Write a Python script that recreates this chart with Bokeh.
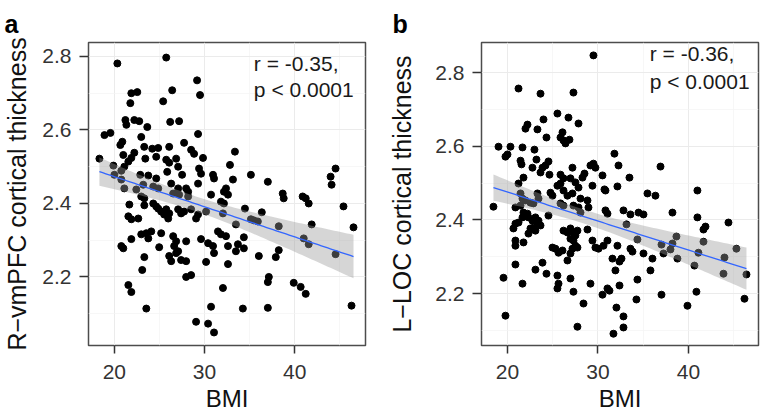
import numpy as np
from bokeh.plotting import figure
from bokeh.layouts import row
from bokeh.models import FixedTicker, Label, Range1d
from bokeh.embed import file_html
from bokeh.resources import INLINE

# ---------------- data ----------------
bmi_a = [20.33, 25.75, 29.17, 21.88, 22.54, 26.41, 29.50, 21.77, 25.41, 21.22,
         22.21, 22.76, 21.33, 23.65, 26.19, 27.18, 18.90, 19.56, 29.28, 22.98,
         20.88, 20.66, 27.73, 23.31, 24.20, 24.86, 26.08, 28.51, 28.84, 20.99,
         22.21, 21.88, 23.43, 24.64, 18.34, 19.89, 25.75, 26.08, 26.85, 29.83,
         21.55, 21.10, 20.77, 27.07, 25.86, 27.51, 29.39, 29.61, 30.94, 31.05,
         32.82, 22.87, 23.76, 24.64, 20.00, 20.77, 23.20, 24.31, 24.86, 29.28,
         26.30, 27.07, 27.96, 21.10, 22.43, 32.38, 32.15, 22.98, 23.32, 26.52,
         27.18, 28.18, 28.18, 30.72, 31.82, 32.15, 21.66, 23.32, 24.31, 24.64,
         24.86, 25.19, 25.75, 26.08, 25.52, 25.97, 27.07, 27.40, 27.73, 28.51,
         29.28, 29.06, 30.17, 32.04, 21.55, 21.88, 22.65, 22.98, 23.54, 24.09,
         23.76, 25.19, 21.88, 20.77, 20.99, 24.97, 26.52, 26.85, 26.63, 27.07,
         26.85, 27.96, 29.61, 30.39, 30.94, 31.05, 31.49, 31.82, 32.38, 32.60,
         23.32, 26.08, 26.30, 27.40, 27.96, 30.17, 23.09, 32.60, 27.96, 28.51,
         21.55, 21.88, 32.04, 23.54, 30.72, 29.06, 30.39, 31.05, 33.15, 35.14,
         37.02, 32.60, 38.67, 38.78, 40.88, 41.22, 41.55, 44.53, 43.98, 44.09,
         45.41, 34.48, 36.35, 35.14, 35.47, 35.91, 33.48, 38.23, 41.88, 46.52,
         34.36, 33.70, 34.36, 33.48, 41.00, 41.55, 38.23, 37.90, 36.02, 44.53,
         37.13, 37.02, 39.89, 40.66, 41.22, 34.25, 37.02, 46.30, 33.37]
thick_a = [2.781, 2.797, 2.735, 2.700, 2.703, 2.708, 2.695, 2.673, 2.678, 2.627,
           2.627, 2.624, 2.614, 2.608, 2.622, 2.624, 2.586, 2.592, 2.589, 2.581,
           2.568, 2.559, 2.565, 2.554, 2.549, 2.551, 2.554, 2.546, 2.535, 2.532,
           2.538, 2.524, 2.522, 2.527, 2.522, 2.503, 2.519, 2.511, 2.522, 2.524,
           2.514, 2.500, 2.489, 2.500, 2.486, 2.478, 2.495, 2.481, 2.478, 2.468,
           2.505, 2.478, 2.476, 2.468, 2.478, 2.465, 2.451, 2.446, 2.441, 2.454,
           2.454, 2.441, 2.441, 2.441, 2.438, 2.441, 2.432, 2.419, 2.414, 2.427,
           2.424, 2.419, 2.432, 2.424, 2.405, 2.400, 2.397, 2.395, 2.400, 2.392,
           2.386, 2.378, 2.384, 2.373, 2.370, 2.359, 2.384, 2.373, 2.378, 2.384,
           2.370, 2.359, 2.378, 2.373, 2.365, 2.357, 2.359, 2.316, 2.319, 2.324,
           2.305, 2.319, 2.303, 2.284, 2.278, 2.281, 2.311, 2.297, 2.284, 2.270,
           2.265, 2.297, 2.303, 2.292, 2.284, 2.265, 2.324, 2.316, 2.311, 2.284,
           2.254, 2.257, 2.243, 2.246, 2.243, 2.241, 2.219, 2.235, 2.200, 2.205,
           2.178, 2.159, 2.170, 2.114, 2.119, 2.078, 2.073, 2.049, 2.465, 2.478,
           2.459, 2.424, 2.427, 2.414, 2.419, 2.414, 2.400, 2.495, 2.473, 2.451,
           2.392, 2.386, 2.376, 2.357, 2.354, 2.351, 2.343, 2.338, 2.343, 2.335,
           2.308, 2.289, 2.278, 2.270, 2.305, 2.289, 2.273, 2.254, 2.257, 2.262,
           2.200, 2.186, 2.184, 2.173, 2.154, 2.114, 2.116, 2.122, 2.541]

bmi_b = [29.50, 21.22, 23.65, 27.29, 25.52, 26.74, 23.98, 27.85, 22.21, 21.99,
         23.31, 24.31, 26.08, 25.86, 26.19, 26.41, 26.85, 19.01, 20.33, 20.00,
         19.78, 21.66, 22.98, 23.20, 21.44, 21.55, 24.53, 24.20, 23.87, 22.76,
         29.50, 29.72, 29.17, 27.18, 30.50, 28.51, 28.29, 25.86, 26.19, 23.65,
         24.64, 21.77, 31.82, 32.27, 36.91, 33.48, 21.22, 26.96, 27.51, 29.39,
         30.83, 25.52, 25.86, 26.19, 26.63, 27.18, 24.75, 24.97, 23.31, 23.43,
         27.85, 28.07, 28.84, 28.95, 21.44, 21.66, 21.99, 22.54, 22.87, 20.88,
         21.44, 18.45, 27.29, 27.85, 28.07, 25.86, 26.19, 24.53, 21.77, 22.21,
         22.32, 22.76, 23.09, 23.43, 23.31, 22.87, 23.09, 23.65, 21.66, 21.22,
         20.88, 20.66, 22.32, 22.54, 26.19, 26.63, 26.96, 27.29, 27.51, 27.73,
         28.84, 20.88, 21.77, 20.88, 26.96, 27.29, 27.51, 27.73, 27.18, 26.96,
         29.39, 29.72, 30.06, 30.61, 31.05, 24.97, 25.30, 25.64, 26.08, 26.63,
         20.88, 23.87, 23.09, 24.31, 19.56, 25.52, 25.64, 25.52, 26.96, 21.66,
         27.29, 29.17, 31.05, 30.50, 28.40, 19.78, 27.73, 32.15, 30.72, 35.47,
         36.35, 40.99, 30.83, 31.05, 32.82, 33.59, 34.48, 35.03, 38.23, 33.15,
         40.99, 41.88, 41.66, 44.42, 32.15, 34.36, 33.59, 33.81, 35.03, 37.02,
         38.23, 38.67, 38.01, 37.24, 41.66, 41.10, 45.30, 31.60, 32.60, 32.38,
         36.02, 38.78, 43.98, 31.93, 35.80, 40.66, 43.87, 46.41, 34.36, 32.38,
         31.27, 34.25, 37.02, 40.88, 46.19, 32.04, 39.89, 32.82, 32.82, 31.71]
thick_b = [2.847, 2.757, 2.743, 2.746, 2.689, 2.678, 2.673, 2.662, 2.659, 2.648,
           2.646, 2.624, 2.638, 2.624, 2.616, 2.608, 2.618, 2.599, 2.599, 2.578,
           2.572, 2.597, 2.591, 2.564, 2.561, 2.551, 2.559, 2.548, 2.542, 2.542,
           2.553, 2.542, 2.548, 2.542, 2.521, 2.526, 2.515, 2.523, 2.513, 2.529,
           2.523, 2.515, 2.580, 2.548, 2.545, 2.515, 2.499, 2.513, 2.502, 2.493,
           2.480, 2.493, 2.499, 2.480, 2.466, 2.472, 2.474, 2.466, 2.472, 2.458,
           2.488, 2.458, 2.453, 2.434, 2.472, 2.458, 2.453, 2.447, 2.445, 2.434,
           2.439, 2.436, 2.439, 2.434, 2.420, 2.445, 2.439, 2.412, 2.420, 2.417,
           2.407, 2.398, 2.407, 2.398, 2.390, 2.379, 2.371, 2.385, 2.407, 2.393,
           2.390, 2.377, 2.363, 2.377, 2.371, 2.366, 2.377, 2.366, 2.358, 2.371,
           2.374, 2.344, 2.339, 2.330, 2.349, 2.344, 2.330, 2.325, 2.322, 2.309,
           2.344, 2.325, 2.322, 2.330, 2.344, 2.325, 2.322, 2.311, 2.317, 2.290,
           2.279, 2.284, 2.265, 2.254, 2.243, 2.249, 2.227, 2.214, 2.241, 2.227,
           2.205, 2.227, 2.214, 2.197, 2.173, 2.140, 2.110, 2.491, 2.483, 2.472,
           2.466, 2.480, 2.426, 2.417, 2.426, 2.415, 2.420, 2.415, 2.420, 2.388,
           2.407, 2.382, 2.374, 2.393, 2.330, 2.347, 2.322, 2.314, 2.309, 2.333,
           2.336, 2.355, 2.320, 2.309, 2.341, 2.311, 2.322, 2.295, 2.295, 2.287,
           2.295, 2.295, 2.298, 2.263, 2.263, 2.276, 2.254, 2.252, 2.238, 2.222,
           2.208, 2.184, 2.197, 2.205, 2.186, 2.162, 2.167, 2.138, 2.108, 2.091]

x_ticks = [20, 30, 40]
x_minor = [25, 35, 45]
y_ticks = [2.2, 2.4, 2.6, 2.8]
y_minor = [2.1, 2.3, 2.5, 2.7]
y_tick_labels = {2.2: "2.2", 2.4: "2.4", 2.6: "2.6", 2.8: "2.8"}
x_label = "BMI"
ylabel_a = "R\u2212vmPFC cortical thickness"
ylabel_b = "L\u2212LOC cortical thickness"
stat_a = ["r = -0.35,", "p < 0.0001"]
stat_b = ["r = -0.36,", "p < 0.0001"]

FONT = "Liberation Sans"


def fit_band(xs, ys, npts=80, tcrit=1.973):
    x = np.asarray(xs, float)
    y = np.asarray(ys, float)
    n = len(x)
    b, a = np.polyfit(x, y, 1)
    grid = np.linspace(x.min(), x.max(), npts)
    yhat = a + b * grid
    resid = y - (a + b * x)
    s = np.sqrt(np.sum(resid ** 2) / (n - 2))
    xm = x.mean()
    sxx = np.sum((x - xm) ** 2)
    se = s * np.sqrt(1.0 / n + (grid - xm) ** 2 / sxx)
    return grid, yhat, yhat - tcrit * se, yhat + tcrit * se


def panel(xs, ys, ylabel, letter, stat, width, height, bl, br, bt, bb,
          xr, yr, ylab_standoff, letter_offset, stat_pos):
    p = figure(width=width, height=height,
               x_range=Range1d(*xr), y_range=Range1d(*yr),
               output_backend="svg", toolbar_location=None,
               min_border_left=bl, min_border_top=bt, min_border_right=br,
               min_border_bottom=bb)
    p.background_fill_color = "white"
    p.border_fill_color = "white"
    p.outline_line_color = "#4d4d4d"
    p.outline_line_width = 1.5

    # panel letter as the figure title, pushed left of the frame
    p.title.text = letter
    p.title.align = "left"
    p.title.offset = letter_offset
    p.title.standoff = 10
    p.title.text_font = FONT
    p.title.text_font_size = "25px"
    p.title.text_font_style = "bold"
    p.title.text_color = "black"

    p.xaxis.ticker = FixedTicker(ticks=x_ticks, minor_ticks=x_minor)
    p.yaxis.ticker = FixedTicker(ticks=y_ticks, minor_ticks=y_minor)
    p.yaxis.major_label_overrides = y_tick_labels
    for ax in (p.xaxis[0], p.yaxis[0]):
        ax.axis_line_color = None
        ax.major_tick_line_color = "#333333"
        ax.major_tick_line_width = 1.5
        ax.major_tick_in = 0
        ax.minor_tick_line_color = None
        ax.major_label_text_font = FONT
        ax.major_label_text_font_size = "21px"
        ax.major_label_text_color = "#333333"
        ax.axis_label_text_font = FONT
        ax.axis_label_text_font_style = "normal"
        ax.axis_label_text_color = "#111111"
    p.xaxis.axis_label = x_label
    p.xaxis.axis_label_text_font_size = "24px"
    p.xaxis.major_tick_out = 8
    p.xaxis.major_label_standoff = 11
    p.xaxis.axis_label_standoff = 3
    p.yaxis.axis_label = ylabel
    p.yaxis.axis_label_text_font_size = "25px"
    p.yaxis.major_tick_out = 9
    p.yaxis.major_label_standoff = 8
    p.yaxis.axis_label_standoff = ylab_standoff

    p.xgrid.grid_line_color = "#EBEBEB"
    p.ygrid.grid_line_color = "#EBEBEB"
    p.xgrid.minor_grid_line_color = "#F3F3F3"
    p.ygrid.minor_grid_line_color = "#F3F3F3"
    p.xgrid.minor_grid_line_width = 0.7
    p.ygrid.minor_grid_line_width = 0.7

    p.scatter(xs, ys, size=7, fill_color="black", line_color="black")
    gx, gy, lo, hi = fit_band(xs, ys)
    p.varea(x=gx, y1=lo, y2=hi, fill_color="#999999", fill_alpha=0.4)
    p.line(gx, gy, line_color="#3366FF", line_width=1.3)

    p.add_layout(Label(x=stat_pos[0], y=stat_pos[1], text=stat[0],
                       text_font=FONT, text_font_size="21px", text_color="#1a1a1a"))
    p.add_layout(Label(x=stat_pos[0], y=stat_pos[2], text=stat[1],
                       text_font=FONT, text_font_size="21px", text_color="#1a1a1a"))
    return p


pa = panel(bmi_a, thick_a, ylabel_a, "a", stat_a, 375, 415, 87, 10, 40, 70,
           (17.13, 47.85), (2.0135, 2.838), 8, -84, (35.47, 2.749, 2.680))
pb = panel(bmi_b, thick_b, ylabel_b, "b", stat_b, 387, 415, 106, 4, 42, 70,
           (17.13, 47.74), (2.059, 2.882), 16, -89, (35.72, 2.820, 2.746))

layout = row(pa, pb)
open("out.html", "w").write(file_html(layout, INLINE))
